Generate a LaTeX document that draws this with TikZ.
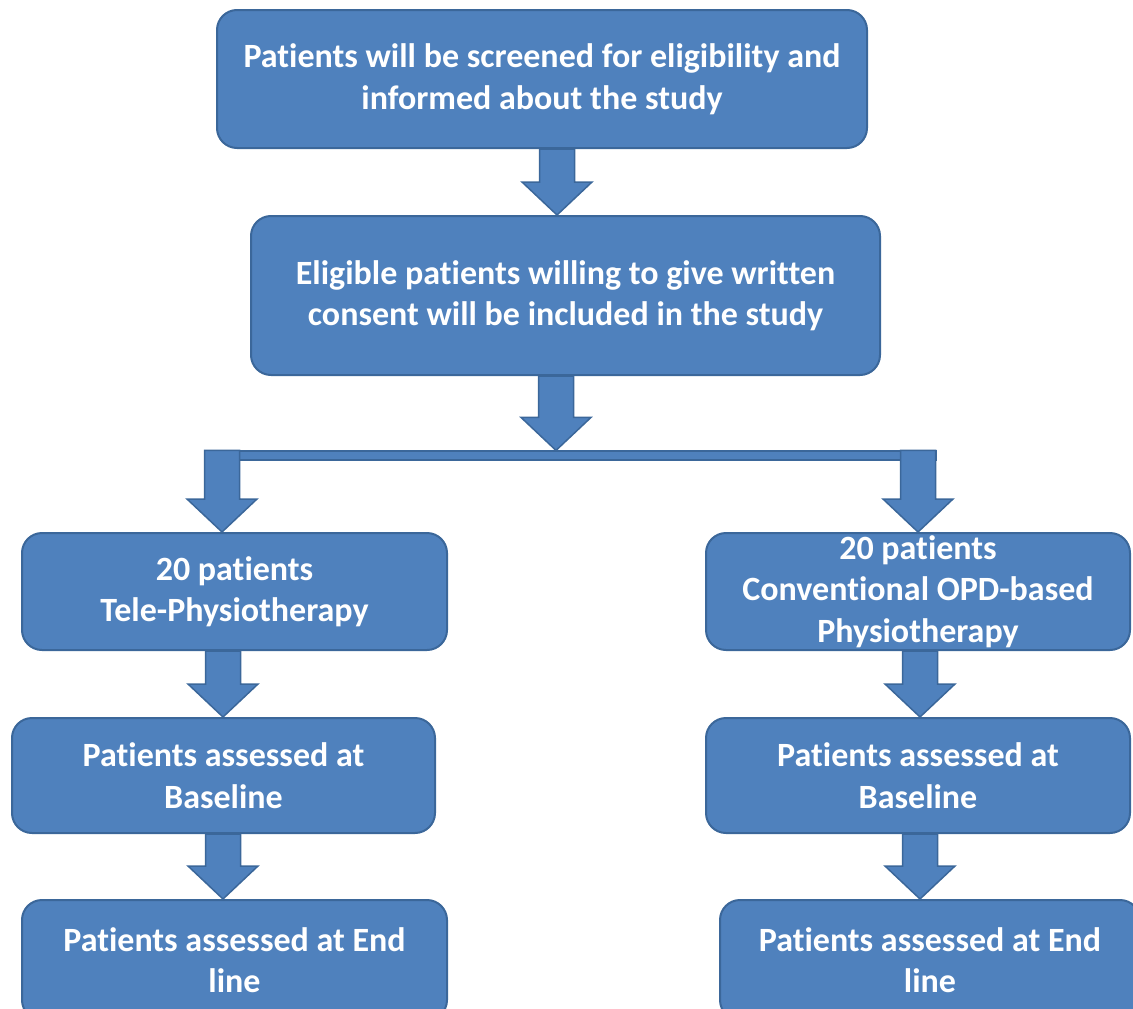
\documentclass[tikz,border=0pt]{standalone}
\usepackage{fontspec}
\setmainfont{Carlito}[Ligatures=NoCommon]
\usetikzlibrary{calc}
\definecolor{boxfill}{HTML}{4F81BD}
\definecolor{boxline}{HTML}{3B679A}
\tikzset{
  flowbox/.style={draw=boxline, line width=2pt, fill=boxfill, rounded corners=20pt,
    inner sep=0pt, align=center, text=white,
    font=\fontsize{34}{41.5}\selectfont\bfseries},
  blockarrow/.style={draw=boxline, line width=1.5pt, fill=boxfill, line join=miter},
}
% block arrow pointing down: #1 = x position, #2 = start anchor, #3 = tip anchor
\newcommand\flowarrow[3]{%
  \filldraw[blockarrow] let \p1=(#2), \p2=(#3) in
    ({#1pt-17.5pt},\y1) -- ({#1pt-17.5pt},\y2+33pt) -- ({#1pt-35pt},\y2+33pt)
    -- ({#1pt},\y2) -- ({#1pt+35pt},\y2+33pt) -- ({#1pt+17.5pt},\y2+33pt)
    -- ({#1pt+17.5pt},\y1) -- cycle;}
\begin{document}
\begin{tikzpicture}[x=1pt,y=-1pt]
\useasboundingbox (0,0) rectangle (1133,1009);
\clip (0,0) rectangle (1133,1009);

\node[flowbox, minimum width=650, minimum height=138] (screen) at (542,79)
  {Patients will be screened for eligibility and\\informed about the study};
\node[flowbox, minimum width=629, minimum height=159] (consent) at (565.5,295.5)
  {Eligible patients willing to give written\\consent will be included in the study};

\node[draw=boxline, line width=1.2pt, fill=boxfill, inner sep=0pt,
  minimum width=714, minimum height=9] (split) at (579,455.5) {};

\node[flowbox, minimum width=425, minimum height=117] (teleA) at (234.5,591.5)
  {20 patients\\Tele-Physiotherapy};
\node[flowbox, minimum width=424, minimum height=117] (convA) at (918,591.5)
  {20 patients\\Conventional OPD-based\\Physiotherapy};

\node[flowbox, minimum width=423, minimum height=115] (teleB) at (223.5,775.5)
  {Patients assessed at\\Baseline};
\node[flowbox, minimum width=424, minimum height=115] (convB) at (918,775.5)
  {Patients assessed at\\Baseline};

\node[flowbox, minimum width=425, minimum height=120] (teleC) at (234.5,960)
  {Patients assessed at End\\line};
\node[flowbox, minimum width=420, minimum height=120] (convC) at (930,960)
  {Patients assessed at End\\line};

\flowarrow{557}{screen.south}{consent.north}
\flowarrow{556}{consent.south}{split.north}
\flowarrow{222}{split.north}{teleA.north}
\flowarrow{918}{split.north}{convA.north}
\flowarrow{223}{teleA.south}{teleB.north}
\flowarrow{223}{teleB.south}{teleC.north}
\flowarrow{920}{convA.south}{convB.north}
\flowarrow{920}{convB.south}{convC.north}
\end{tikzpicture}
\end{document}
